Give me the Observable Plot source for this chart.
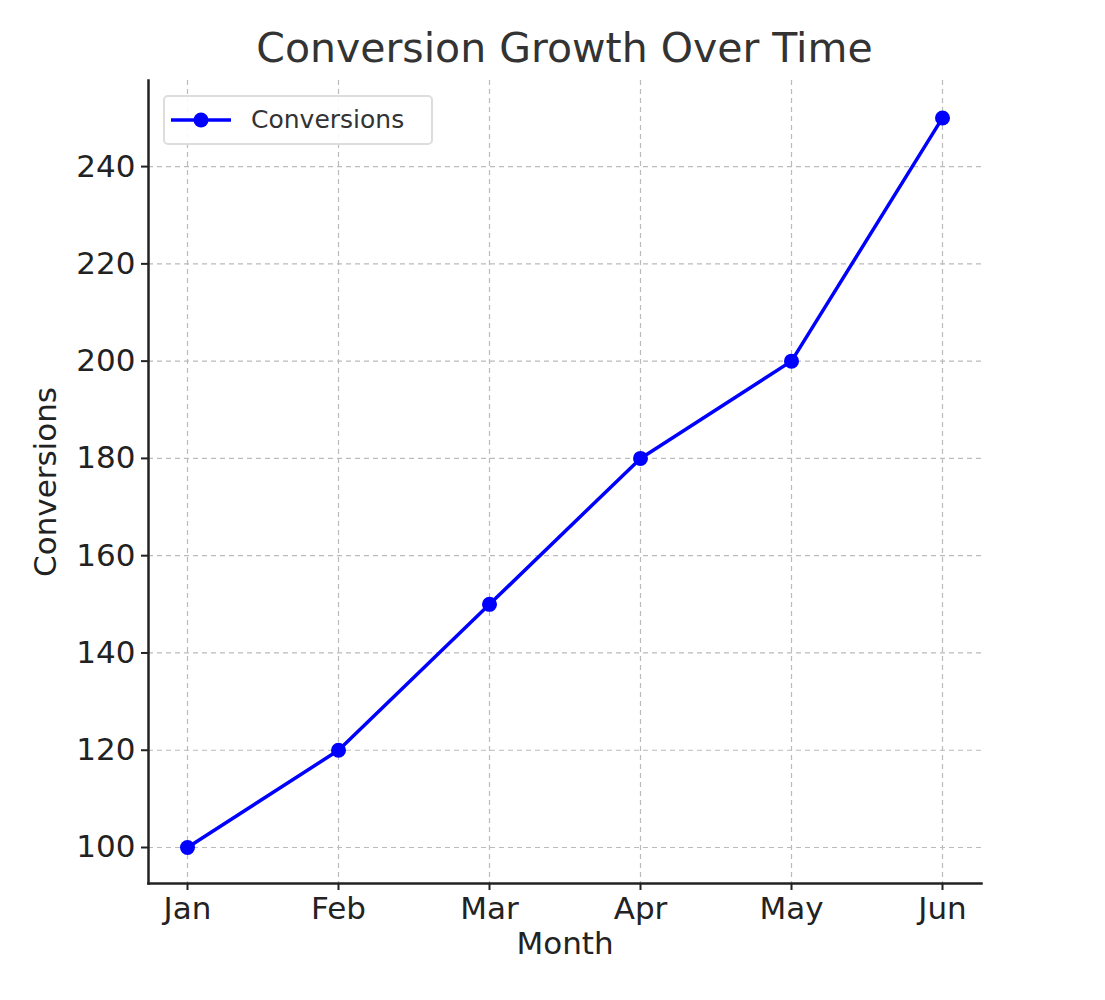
<!DOCTYPE html>
<html>
<head>
<meta charset="utf-8">
<script src="https://cdn.jsdelivr.net/npm/d3@7"></script>
<script src="https://cdn.jsdelivr.net/npm/@observablehq/plot@0.6"></script>
<style>
  body { margin: 0; background: #fff; font-family: "DejaVu Sans", sans-serif; }
  #wrap { position: relative; width: 1105px; height: 1000px; }
  #title { position: absolute; top: 24px; left: 0; width: 1129px; text-align: center; font-size: 41px; color: #333; }
  #chart { position: absolute; top: 70px; left: 0; }
  #legend { position: absolute; left: 163px; top: 95px; width: 270px; height: 50px; border: 2px solid #ddd; border-radius: 5px; box-sizing: border-box; background: rgba(255,255,255,0.9); }
  #legend svg { position: absolute; left: 6px; top: 10px; }
  #legend span { position: absolute; left: 86px; top: 8px; font-size: 25px; color: #333; }
</style>
</head>
<body>
<div id="wrap">
  <div id="title">Conversion Growth Over Time</div>
  <div id="chart"></div>
  <div id="legend">
    <svg width="64" height="26"><line x1="0" y1="13" x2="60" y2="13" stroke="blue" stroke-width="3.5"/><circle cx="30" cy="13" r="7.5" fill="blue"/></svg>
    <span>Conversions</span>
  </div>
</div>
<script>
const months = ["Jan", "Feb", "Mar", "Apr", "May", "Jun"];
const conversions = [100, 120, 150, 180, 200, 250];
const yTicks = [100, 120, 140, 160, 180, 200, 220, 240];

const data = months.map((m, i) => ({month: m, value: conversions[i]}));

const chart = Plot.plot({
  width: 1105,
  height: 930,
  marginTop: 10,
  marginLeft: 148,
  marginRight: 124,
  marginBottom: 117,
  style: {fontFamily: "DejaVu Sans", fontSize: "31px", color: "#222"},
  x: {type: "point", domain: months, padding: 0.25, label: null},
  y: {domain: [92.6, 257.7], label: null},
  marks: [
    Plot.gridX(months, {stroke: "#bbb", strokeOpacity: 1, strokeDasharray: "5,4", strokeWidth: 1.2}),
    Plot.gridY(yTicks, {stroke: "#bbb", strokeOpacity: 1, strokeDasharray: "5,4", strokeWidth: 1.2}),
    Plot.axisX(months, {tickSize: 7, tickPadding: 6, fontSize: 31, stroke: "#222", strokeWidth: 2, label: null}),
    Plot.axisY(yTicks, {tickSize: 7, tickPadding: 6, fontSize: 31, stroke: "#222", strokeWidth: 2, label: null}),
    Plot.frame({anchor: "left", stroke: "#222", strokeWidth: 2.5}),
    Plot.frame({anchor: "bottom", stroke: "#222", strokeWidth: 2.5}),
    Plot.line(data, {x: "month", y: "value", stroke: "blue", strokeWidth: 3.5}),
    Plot.dot(data, {x: "month", y: "value", fill: "blue", r: 7.5}),
    Plot.text(["Month"], {frameAnchor: "bottom", dy: 70, fontSize: 31, fill: "#222"}),
    Plot.text(["Conversions"], {frameAnchor: "left", textAnchor: "middle", dx: -102, rotate: -90, fontSize: 31, fill: "#222"})
  ]
});
document.getElementById("chart").append(chart);
</script>
</body>
</html>
